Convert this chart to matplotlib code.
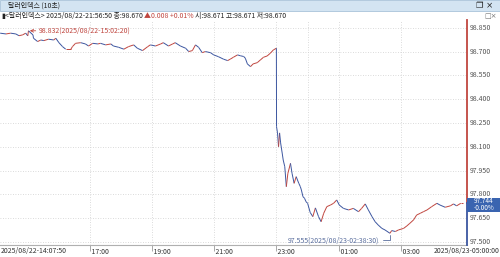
import matplotlib
matplotlib.use("Agg")
import numpy as np
import pandas as pd
import matplotlib.pyplot as plt
import matplotlib.dates as mdates
import matplotlib.transforms as mtransforms
from matplotlib.collections import LineCollection
from matplotlib.patches import Rectangle

plt.rcParams['font.family'] = ['Liberation Sans Narrow', 'Noto Sans CJK KR', 'DejaVu Sans']

# 10-second dollar index (times before 14:00 are on 08/23)
times = ["14:07:50", "14:19", "14:28", "14:38", "14:44", "14:51", "14:57", "15:01",
         "15:02:20", "15:11", "15:12", "15:20", "15:26", "15:32", "15:41", "15:51",
         "15:55", "16:01", "16:08", "16:14", "16:24", "16:27", "16:33", "16:43",
         "16:52", "16:58", "17:06", "17:16", "17:21", "17:31", "17:41", "17:46",
         "17:56", "18:06", "18:15", "18:25", "18:32", "18:42", "18:52", "18:57",
         "19:07", "19:17", "19:22", "19:32", "19:40", "19:45", "19:55", "20:05",
         "20:11", "20:18", "20:24", "20:30", "20:37", "20:43", "20:53", "20:59",
         "21:08", "21:18", "21:26", "21:31", "21:37", "21:45", "21:51", "21:56:50",
         "22:00", "22:04", "22:10", "22:15", "22:23", "22:29", "22:35", "22:42",
         "22:48", "22:54", "22:59:50", "23:00:10", "23:02", "23:04", "23:06", "23:08",
         "23:11", "23:13", "23:16", "23:19", "23:22", "23:27", "23:30", "23:34",
         "23:38", "23:43", "23:46", "23:48", "23:51", "23:54", "23:57", "00:00",
         "00:05", "00:10", "00:15", "00:21", "00:26", "00:31", "00:37", "00:44",
         "00:50", "00:56", "01:01", "01:09", "01:19", "01:28", "01:38", "01:44",
         "01:51", "01:57", "02:04", "02:10", "02:16", "02:23", "02:29", "02:38:30",
         "02:42", "02:49", "02:55", "03:05", "03:11", "03:17", "03:24", "03:30",
         "03:37", "03:43", "03:50", "03:59", "04:09", "04:15", "04:25", "04:35",
         "04:41", "04:47", "04:55", "05:00"]
prices = [98.817, 98.812, 98.817, 98.812, 98.801, 98.806, 98.817, 98.800,
          98.832, 98.806, 98.785, 98.764, 98.774, 98.770, 98.779, 98.774,
          98.785, 98.757, 98.732, 98.716, 98.716, 98.732, 98.753, 98.757,
          98.749, 98.736, 98.753, 98.749, 98.753, 98.743, 98.749, 98.736,
          98.728, 98.716, 98.732, 98.743, 98.722, 98.707, 98.732, 98.743,
          98.736, 98.749, 98.757, 98.736, 98.749, 98.757, 98.736, 98.722,
          98.701, 98.707, 98.743, 98.728, 98.694, 98.701, 98.694, 98.680,
          98.669, 98.653, 98.644, 98.653, 98.665, 98.680, 98.674, 98.670,
          98.659, 98.623, 98.606, 98.623, 98.631, 98.648, 98.665, 98.673,
          98.690, 98.711, 98.722, 98.227, 98.188, 98.101, 98.188, 98.125,
          98.061, 98.017, 97.975, 97.849, 97.933, 97.996, 97.933, 97.870,
          97.912, 97.870, 97.849, 97.828, 97.786, 97.776, 97.754, 97.744,
          97.686, 97.660, 97.715, 97.660, 97.628, 97.681, 97.723, 97.733,
          97.744, 97.765, 97.733, 97.712, 97.702, 97.712, 97.691, 97.712,
          97.740, 97.702, 97.660, 97.628, 97.607, 97.586, 97.576, 97.555,
          97.572, 97.566, 97.576, 97.586, 97.601, 97.618, 97.639, 97.670,
          97.681, 97.691, 97.702, 97.723, 97.744, 97.733, 97.719, 97.728,
          97.740, 97.728, 97.744, 97.744]

y_levels = [97.5, 97.65, 97.8, 97.95, 98.1, 98.25, 98.4, 98.55, 98.7, 98.85]
x_ticks = ["17:00", "19:00", "21:00", "23:00", "01:00", "03:00"]
start_label = "2025/08/22-14:07:50"
end_label = "2025/08/23-05:00:00"
high_label = "98.832(2025/08/22-15:02:20)"
low_label = "97.555(2025/08/23-02:38:30)"
last_price = 97.744
last_change = "-0.00%"


def stamp(t):
    day = "2025-08-22" if int(t[:2]) >= 14 else "2025-08-23"
    return pd.Timestamp(f"{day} {t}")


xs = mdates.date2num([stamp(t) for t in times])
ys = np.array(prices)

RED = "#c0463f"
BLUE = "#3c56a0"
W, H = 500, 257
FS = 5.0

fig = plt.figure(figsize=(W / 100, H / 100), dpi=100)
fig.patch.set_facecolor("white")

ax = fig.add_axes([0, 12 / H, 467 / W, 225 / H])
ax.set_xlim(mdates.date2num(pd.Timestamp("2025-08-22 14:07:30")),
            mdates.date2num(pd.Timestamp("2025-08-23 05:07:00")))
ax.set_ylim(97.481, 98.900)

# grid
for v in y_levels:
    ax.axhline(v, color="#cfcfcf", lw=0.6, ls=(0, (1, 2)), zorder=0)
grid_x = [stamp(t) for t in x_ticks] + [pd.Timestamp("2025-08-23 00:00")]
for t in grid_x:
    ax.axvline(mdates.date2num(t), color="#cfcfcf", lw=0.6, ls=(0, (1, 2)), zorder=0)

# price line, up ticks red / down ticks blue
pts = np.column_stack([xs, ys])
segs = np.stack([pts[:-1], pts[1:]], axis=1)
cols = [RED if d >= 0 else BLUE for d in np.diff(ys)]
ax.add_collection(LineCollection(segs, colors=cols, linewidths=0.7, zorder=3))

for s in ["top", "left", "right"]:
    ax.spines[s].set_visible(False)
ax.spines["bottom"].set_color("#b0b0b0")
ax.spines["bottom"].set_linewidth(0.8)
ax.set_yticks([])
ax.set_xticks(mdates.date2num([stamp(t) for t in x_ticks]))
ax.set_xticklabels([])
ax.tick_params(axis="x", length=4, width=0.6, color="#9a9a9a", direction="out")

# x labels
xb = mtransforms.blended_transform_factory(ax.transData, fig.transFigure)
for t in x_ticks:
    ax.text(mdates.date2num(stamp(t)), 5.5 / H, " " + t, transform=xb, ha="left",
            va="center", fontsize=FS, color="#333333")
fig.text(0.5 / W, 5.5 / H, start_label, ha="left", va="center", fontsize=FS, color="#333333")
fig.text(499.5 / W, 5.5 / H, end_label, ha="right", va="center", fontsize=FS, color="#333333")

# right y labels
yb = mtransforms.blended_transform_factory(fig.transFigure, ax.transData)
for v in y_levels:
    ax.text(470 / W, v, f"{v:.3f}", transform=yb, ha="left", va="center",
            fontsize=FS, color="#555555", clip_on=False)

# right edge line, red above last price and blue below
x_edge = ax.get_xlim()[1]
ax.plot([x_edge, x_edge], [last_price, 98.900], color=RED, lw=1.3, clip_on=False, zorder=4)
ax.plot([x_edge, x_edge], [97.481, last_price], color=BLUE, lw=1.3, clip_on=False, zorder=4)

fig.patches.append(Rectangle((467 / W, 45 / H), 33 / W, 14.5 / H, transform=fig.transFigure,
                             facecolor="#3a64b0", edgecolor="none", zorder=5))
fig.text(484 / W, 55.6 / H, f"{last_price:.3f}", ha="center", va="center", fontsize=4.6,
         color="white", zorder=6)
fig.text(484 / W, 48.6 / H, last_change, ha="center", va="center", fontsize=4.6,
         color="white", zorder=6)

# high / low annotations
hi = prices.index(max(prices))
lo = prices.index(min(prices))
ax.annotate(high_label, xy=(xs[hi], ys[hi]), xytext=(10, 0), textcoords="offset pixels",
            ha="left", va="center", fontsize=FS, color=RED,
            arrowprops=dict(arrowstyle="->", color=RED, lw=0.6, shrinkA=0, shrinkB=1,
                            mutation_scale=5))
ax.annotate(low_label, xy=(xs[lo], ys[lo]), xytext=(-11, -7), textcoords="offset pixels",
            ha="right", va="center", fontsize=FS, color="#5a6e9e",
            arrowprops=dict(arrowstyle="-", color="#5a6e9e", lw=0.6, shrinkA=1, shrinkB=1,
                            relpos=(1, 0.5), connectionstyle="angle,angleA=0,angleB=90,rad=0"))

# title bar
fig.patches.append(Rectangle((0, (H - 11) / H), 1, 11 / H, transform=fig.transFigure,
                             facecolor="#d3e4f2", edgecolor="#a9c3da", lw=0.6, zorder=1))
fig.text(8 / W, (H - 5.5) / H, "달러인덱스 (10초)", ha="left", va="center", fontsize=5,
         color="#222222", zorder=2)
fig.text(493 / W, (H - 5.5) / H, "❐ ×", ha="right", va="center", fontsize=6,
         color="#222222", zorder=2, family=["DejaVu Sans"])

# info line, drawn as colored runs
renderer = fig.canvas.get_renderer()
px = mtransforms.IdentityTransform()
x0 = 1.0
y0 = H - 16
runs = [("▮", "#222222"), ("<달러인덱스> 2025/08/22-21:56:50 종:98.670 ", "#222222"),
        ("▲0.008 +0.01% ", RED), ("시:98.671 고:98.671 저:98.670", "#222222")]
for s, c in runs:
    t = fig.text(x0, y0, s, transform=px, ha="left", va="center", fontsize=5, color=c)
    x0 = t.get_window_extent(renderer).x1
fig.text(497 / W, y0 / H, "□×", ha="right", va="center", fontsize=5, color="#777777",
         family=["DejaVu Sans"])

fig.savefig("out.png", dpi=100)
